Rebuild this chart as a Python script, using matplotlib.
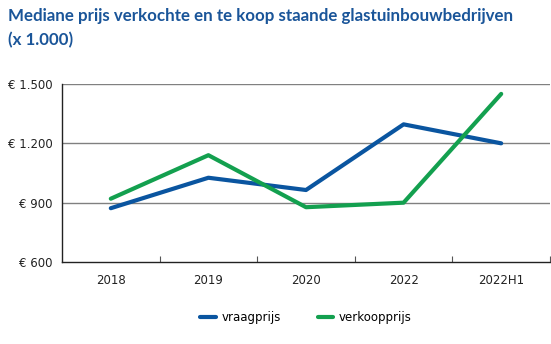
import matplotlib
matplotlib.use("Agg")
import matplotlib.pyplot as plt
from matplotlib.lines import Line2D

categories = ["2018", "2019", "2020", "2022", "2022H1"]
vraagprijs = [872, 1026, 964, 1296, 1200]
verkoopprijs = [920, 1140, 877, 900, 1450]
yticks = [600, 900, 1200, 1500]
ytick_labels = ["€ 600", "€ 900", "€ 1.200", "€ 1.500"]

blue = "#0a55a0"
green = "#13a04f"
title_color = "#1a5599"

fig = plt.figure(figsize=(5.51, 3.44), dpi=100)
ax = fig.add_axes([62/551, 1-262/344, (550-62)/551, (262-84)/344])

x = list(range(len(categories)))
ax.plot(x, vraagprijs, color=blue, lw=3.0, solid_capstyle="round", zorder=3)
ax.plot(x, verkoopprijs, color=green, lw=3.0, solid_capstyle="round", zorder=3)

ax.set_xlim(-0.5, len(categories) - 0.5)
ax.set_ylim(600, 1500)
ax.set_yticks(yticks)
ax.set_yticklabels(ytick_labels)
ax.set_xticks(x)
ax.set_xticklabels(categories)
ax.tick_params(axis="x", length=0, pad=9, labelsize=8.5)
ax.tick_params(axis="y", length=0, pad=7, labelsize=8.5)
# boundary ticks
ax.set_xticks([i + 0.5 for i in range(len(categories))], minor=True)
ax.tick_params(axis="x", which="minor", direction="in", length=4, width=0.8, color="#555555")

for y in yticks[1:]:
    ax.axhline(y, color="#808080", lw=1.0, zorder=1)
ax.spines["top"].set_visible(False)
ax.spines["right"].set_visible(False)
ax.spines["left"].set_color("#222222")
ax.spines["bottom"].set_color("#222222")
ax.spines["left"].set_linewidth(1.0)
ax.spines["bottom"].set_linewidth(1.0)

for lab in ax.get_xticklabels() + ax.get_yticklabels():
    lab.set_color("#222222")

fig.text(8/551, 1-16/344, "Mediane prijs verkochte en te koop staande glastuinbouwbedrijven",
         fontsize=12.2, fontweight="bold", color=title_color, family="Lato", va="center", ha="left")
fig.text(8/551, 1-40/344, "(x 1.000)",
         fontsize=12.2, fontweight="bold", color=title_color, family="Lato", va="center", ha="left")

handles = [Line2D([0], [0], color=blue, lw=3.0, solid_capstyle="round"),
           Line2D([0], [0], color=green, lw=3.0, solid_capstyle="round")]
fig.legend(handles, ["vraagprijs", "verkoopprijs"], loc="center", bbox_to_anchor=(306/551, 1-318/344),
           ncol=2, frameon=False, fontsize=8.5, handlelength=1.3, handletextpad=0.5, columnspacing=3.1)

fig.savefig("out.png", dpi=100)
